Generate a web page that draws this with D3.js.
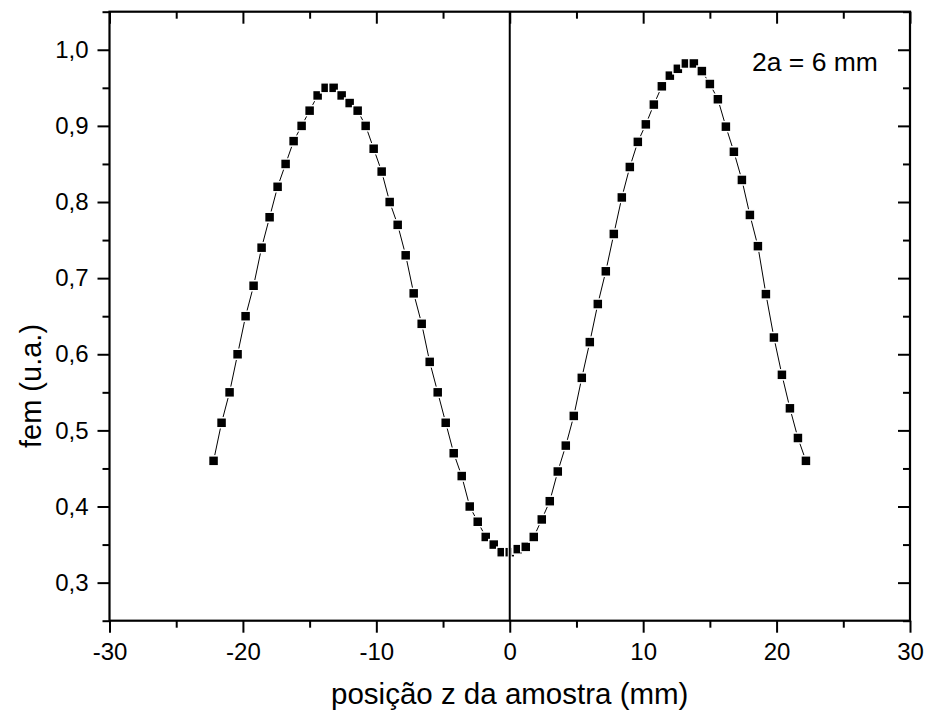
<!DOCTYPE html>
<meta charset="utf-8">
<style>
body { margin:0; background:#fff; }
text { font-family: "Liberation Sans", Arial, sans-serif; fill:#000; }
.tick line { stroke:#000; stroke-width:2px; }
.domain { display:none; }
</style>
<body>
<script src="https://d3js.org/d3.v7.min.js"></script>
<script>

// posição z (mm)
var zpos = [-22.2,-21.6,-21.0,-20.4,-19.8,-19.2,-18.6,-18.0,-17.4,-16.8,-16.2,-15.6,-15.0,-14.4,-13.8,-13.2,
  -12.6,-12.0,-11.4,-10.8,-10.2,-9.6,-9.0,-8.4,-7.8,-7.2,-6.6,-6.0,-5.4,-4.8,-4.2,-3.6,-3.0,-2.4,-1.8,-1.2,-0.6,
  0.0,0.6,1.2,1.8,2.4,3.0,3.6,4.2,4.8,5.4,6.0,6.6,7.2,7.8,8.4,9.0,9.6,10.2,10.8,11.4,12.0,12.6,13.2,13.8,
  14.4,15.0,15.6,16.2,16.8,17.4,18.0,18.6,19.2,19.8,20.4,21.0,21.6,22.2];
// fem (u.a.)
var fem = [0.46,0.51,0.55,0.60,0.65,0.69,0.74,0.78,0.82,0.85,0.88,0.90,0.92,0.94,0.95,0.95,
  0.94,0.93,0.92,0.90,0.87,0.84,0.80,0.77,0.73,0.68,0.64,0.59,0.55,0.51,0.47,0.44,0.40,0.38,0.36,0.35,0.34,
  0.34,0.344,0.347,0.360,0.383,0.407,0.446,0.480,0.519,0.569,0.616,0.666,0.709,0.758,0.806,0.846,0.879,0.902,0.928,0.952,0.966,0.975,0.982,0.982,
  0.972,0.955,0.935,0.899,0.866,0.829,0.783,0.742,0.679,0.622,0.573,0.529,0.490,0.460];

var xTicks = [-30,-20,-10,0,10,20,30];
var xMinor = [-25,-15,-5,5,15,25];
var yTicks = [0.3,0.4,0.5,0.6,0.7,0.8,0.9,1.0];
var yMinor = [0.25,0.35,0.45,0.55,0.65,0.75,0.85,0.95,1.05];

var W = 926, H = 715;
var mL = 109.5, mR = 910, mT = 11.7, mB = 620.7;

var svg = d3.select("body").append("svg").attr("width", W).attr("height", H);

var x = d3.scaleLinear().domain([-30,30]).range([mL,mR]);
var y = d3.scaleLinear().domain([0.25,1.05]).range([mB,mT]);

var fx = function(d){ return String(d); };
var fy = function(d){ return d.toFixed(1).replace(".", ","); };

var data = zpos.map(function(z,i){ return [z, fem[i]]; });

// connecting line
svg.append("path")
	.datum(data)
	.attr("fill","none")
	.attr("stroke","#000")
	.attr("stroke-width",1)
	.attr("d", d3.line().x(d=>x(d[0])).y(d=>y(d[1])));

// markers
svg.selectAll(".pt").data(data).enter().append("rect")
	.attr("class","pt")
	.attr("x", d=>x(d[0])-5)
	.attr("y", d=>y(d[1])-5)
	.attr("width",10).attr("height",10)
	.attr("fill","#000")
	.attr("stroke","#fff")
	.attr("stroke-width",1.5);

// vertical line at z = 0
svg.append("line").attr("x1",x(0)).attr("x2",x(0)).attr("y1",mT).attr("y2",mB)
	.attr("stroke","#fff").attr("stroke-width",4);
svg.append("line").attr("x1",x(0)).attr("x2",x(0)).attr("y1",mT).attr("y2",mB)
	.attr("stroke","#000").attr("stroke-width",2);

// axes
svg.append("g").attr("transform","translate(0,"+mB+")")
	.call(d3.axisBottom(x).tickValues(xTicks).tickSize(12).tickPadding(10).tickFormat(fx));
svg.append("g").attr("transform","translate(0,"+mB+")")
	.call(d3.axisBottom(x).tickValues(xMinor).tickSize(7).tickFormat(""));
svg.append("g").attr("transform","translate(0,"+mT+")")
	.call(d3.axisTop(x).tickValues(xTicks).tickSize(-12).tickFormat(""));
svg.append("g").attr("transform","translate(0,"+mT+")")
	.call(d3.axisTop(x).tickValues(xMinor).tickSize(-7).tickFormat(""));

svg.append("g").attr("transform","translate("+mL+",0)")
	.call(d3.axisLeft(y).tickValues(yTicks).tickSize(12).tickPadding(9).tickFormat(fy));
svg.append("g").attr("transform","translate("+mL+",0)")
	.call(d3.axisLeft(y).tickValues(yMinor).tickSize(7).tickFormat(""));
svg.append("g").attr("transform","translate("+mR+",0)")
	.call(d3.axisRight(y).tickValues(yTicks).tickSize(-12).tickFormat(""));
svg.append("g").attr("transform","translate("+mR+",0)")
	.call(d3.axisRight(y).tickValues(yMinor).tickSize(-7).tickFormat(""));

svg.selectAll(".tick text").style("font-size","24px").style("font-family","'Liberation Sans', Arial, sans-serif");

// frame
svg.append("rect").attr("x",mL).attr("y",mT).attr("width",mR-mL).attr("height",mB-mT)
	.attr("fill","none").attr("stroke","#000").attr("stroke-width",2.2);

// labels
svg.append("text").attr("x",(mL+mR)/2).attr("y",704)
	.attr("text-anchor","middle").style("font-size","29.5px")
	.text("posição z da amostra (mm)");

svg.append("text").attr("transform","translate(41,386) rotate(-90)")
	.attr("text-anchor","middle").style("font-size","29px")
	.text("fem (u.a.)");

svg.append("text").attr("x",752).attr("y",71)
	.style("font-size","26.5px")
	.text("2a = 6 mm");

</script>
</body>
